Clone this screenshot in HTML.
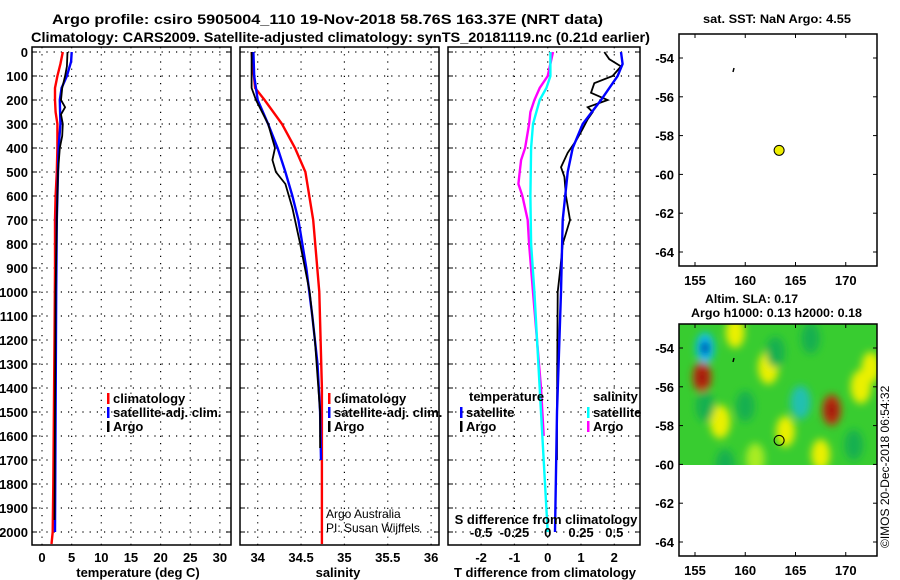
<!DOCTYPE html>
<html><head><meta charset="utf-8"><style>
html,body{margin:0;padding:0;background:#fff;}
svg{display:block;font-family:"Liberation Sans",sans-serif;}
.b{font-weight:bold;}
</style></head><body>
<svg id="c" width="900" height="580" viewBox="0 0 900 580" xmlns="http://www.w3.org/2000/svg">
<defs>
<filter id="blur" x="-50%" y="-50%" width="200%" height="200%"><feGaussianBlur stdDeviation="4"/></filter>
<clipPath id="slaClip"><rect x="679" y="324" width="198" height="141"/></clipPath>
</defs>
<text x="52" y="24" textLength="551" lengthAdjust="spacingAndGlyphs" class="b" font-size="14">Argo profile: csiro 5905004_110 19-Nov-2018 58.76S 163.37E (NRT data)</text>
<text x="31" y="42" textLength="619" lengthAdjust="spacingAndGlyphs" class="b" font-size="14">Climatology: CARS2009. Satellite-adjusted climatology: synTS_20181119.nc (0.21d earlier)</text>
<g id="plots"></g>
<text x="703" y="23" textLength="148" lengthAdjust="spacingAndGlyphs" class="b" font-size="12">sat. SST: NaN Argo: 4.55</text>
<text x="705" y="303" textLength="93" lengthAdjust="spacingAndGlyphs" class="b" font-size="12">Altim. SLA: 0.17</text>
<text x="691" y="317" textLength="171" lengthAdjust="spacingAndGlyphs" class="b" font-size="12">Argo h1000: 0.13 h2000: 0.18</text>
<text transform="translate(889,548) rotate(-90)" font-size="12">©IMOS 20-Dec-2018 06:54:32</text>
</svg>
<script>
// ---- data ----
const depthTicks=[0,100,200,300,400,500,600,700,800,900,1000,1100,1200,1300,1400,1500,1600,1700,1800,1900,2000];
const tempTicks=[0,5,10,15,20,25,30];
const salTicks=[34,34.5,35,35.5,36];
const salTickLabels=["34","34.5","35","35.5","36"];
const tdTicks=[-2,-1,0,1,2];
const sdTicks=[-0.5,-0.25,0,0.25,0.5];
const sdTickLabels=["-0.5","-0.25","0","0.25","0.5"];

const tClimD=[0,50,100,150,200,250,300,400,500,600,700,900,1200,1500,1800,2000,2050];
const tClimV=[3.5,3.1,2.6,2.2,2.2,2.3,2.6,2.6,2.5,2.3,2.2,2.2,2.1,2.0,1.9,1.8,1.6];
const tSatD=[0,40,100,150,200,300,400,500,700,1000,1500,2000];
const tSatV=[5.0,4.9,4.2,3.3,3.0,3.1,2.8,2.7,2.5,2.4,2.3,2.2];
const tArgoD=[0,60,100,150,200,230,260,300,350,400,500,700,1000,1500,1950];
const tArgoV=[4.3,4.2,3.9,3.4,3.2,3.9,3.2,3.5,3.4,3.0,2.7,2.5,2.3,2.2,2.1];

const sClimD=[0,150,200,300,400,500,700,1000,1400,1800,2050];
const sClimV=[33.93,33.97,34.08,34.28,34.43,34.55,34.64,34.71,34.74,34.74,34.74];
const sSatD=[0,100,200,300,400,500,600,700,900,1100,1300,1500,1700];
const sSatV=[33.95,33.96,34.0,34.12,34.23,34.32,34.4,34.47,34.56,34.63,34.69,34.72,34.73];
const sArgoD=[0,150,200,300,400,450,500,550,650,800,1000,1200,1500,1650];
const sArgoV=[33.93,33.93,33.98,34.12,34.2,34.17,34.21,34.32,34.4,34.49,34.6,34.66,34.72,34.72];

const tdSatD=[0,50,100,200,300,400,500,700,1000,1500,2000];
const tdSatV=[2.2,2.25,2.1,1.6,1.05,0.75,0.6,0.45,0.4,0.28,0.22];
const tdArgoD=[0,30,60,100,130,170,200,230,250,280,320,370,420,480,520,600,700,800,900,1000,1500,1700];
const tdArgoV=[1.7,1.85,2.2,1.95,1.4,1.3,1.8,1.2,1.35,1.2,1.05,0.85,0.6,0.4,0.5,0.55,0.67,0.45,0.38,0.3,0.28,0.28];
const sdSatD=[0,100,150,200,300,400,600,800,1000,1500,2000];
const sdSatV=[0.02,0.02,-0.01,-0.06,-0.11,-0.125,-0.13,-0.125,-0.1,-0.05,0.0];
const sdArgoD=[0,100,150,200,250,300,400,450,500,550,600,700,800,1000,1400,1600];
const sdArgoV=[0.04,0.0,-0.06,-0.1,-0.13,-0.14,-0.17,-0.2,-0.21,-0.22,-0.19,-0.15,-0.14,-0.11,-0.05,-0.03];

const lonTicks=[155,160,165,170];
const latTicks=[-54,-56,-58,-60,-62,-64];
const argoLon=163.37, argoLat=-58.76;
const slaBlobLon=[155.7,157.5,162.3,164,159,168.6,171.5,167.5,172.5,161,156,160,165.5,170.8,163,158,166.5,156,156];
const slaBlobLat=[-55.5,-57.8,-55,-58.3,-53.2,-57.2,-56,-59.5,-55,-59.7,-57,-57,-56.8,-59,-54.2,-60,-53.5,-54,-54];
const slaBlobVal=[2,1.2,1.2,1,1,2,1.2,1,1,0.8,-1,-1,-1.5,-1,-0.7,-0.8,-0.7,-2,-3];

// ---- helpers ----
const NS="http://www.w3.org/2000/svg";
const root=document.getElementById('plots');
function mk(tag,attrs,parent){const e=document.createElementNS(NS,tag);for(const k in attrs)e.setAttribute(k,attrs[k]);(parent||root).appendChild(e);return e;}
const Y0=52,PXD=0.24;
const yD=d=>Y0+d*PXD;
const PTOP=47,PBOT=545;
const panels={
 t:{x0:32,x1:231,sx:v=>42+v*5.93},
 s:{x0:240,x1:439,sx:v=>257.7+(v-34)*86.7},
 d:{x0:448,x1:640,sx:v=>547.7+v*33.3}
};
const sdx=v=>547.7+v*133.2;

function frame(p,name){
 const g=mk('g',{});
 
 
 return g;
}
function grid(g,p,xs){
 depthTicks.forEach(d=>{const l=mk('line',{x1:p.x0,x2:p.x1,y1:yD(d),y2:yD(d),stroke:'#000','stroke-width':1.2,'stroke-dasharray':'1.2 6'},g);
  
  mk('line',{x1:p.x0,x2:p.x0+5,y1:yD(d),y2:yD(d),stroke:'#000'},g);mk('line',{x1:p.x1-5,x2:p.x1,y1:yD(d),y2:yD(d),stroke:'#000'},g);});
 xs.forEach(x=>{const l=mk('line',{x1:x,x2:x,y1:PTOP,y2:PBOT,stroke:'#000','stroke-width':1.2,'stroke-dasharray':'1.2 6'},g);
  });
}
function box(g,x0,y0,x1,y1){const r=mk('rect',{x:x0,y:y0,width:x1-x0,height:y1-y0,fill:'none',stroke:'#000','stroke-width':1.5},g);}
function series(g,D,V,sx,color,name,w){
 let pts=D.map((d,i)=>sx(V[i]).toFixed(1)+','+yD(d).toFixed(1)).join(' ');
 const l=mk('polyline',{points:pts,fill:'none',stroke:color,'stroke-width':w||2.4},g);
 
 
}
function text(g,x,y,s,size,anchor,name,bold){const t=mk('text',{x:x,y:y,'font-size':size,'text-anchor':anchor||'start','font-weight':bold===false?'normal':'bold'},g);t.textContent=s;return t;}
function legend(g,x,y,color,label,name){const r=mk('rect',{x:x,y:y-9,width:2.5,height:11,fill:color},g);const t=text(g,x+6,y+1,label,13,'start',name,true);}

// Panel 1 temperature
{const p=panels.t;const g=frame(p,'temperature-panel');
 grid(g,p,tempTicks.map(p.sx));
 series(g,tClimD,tClimV,p.sx,'#f00','temperature-climatology-line');
 series(g,tSatD,tSatV,p.sx,'#00f','temperature-satellite-line');
 series(g,tArgoD,tArgoV,p.sx,'#000','temperature-argo-line',1.8);
 box(g,p.x0,PTOP,p.x1,PBOT);
 depthTicks.forEach(d=>text(g,28,yD(d)+5,String(d),13,'end','depth-tick-label'));
 tempTicks.forEach(v=>text(g,p.sx(v),562,String(v),13,'middle','temperature-tick-label'));
 text(g,138,577,'temperature (deg C)',13,'middle','temperature-axis-title');
 legend(g,107,402,'#f00','climatology','legend-climatology');
 legend(g,107,416,'#00f','satellite-adj. clim.','legend-satellite-adj');
 legend(g,107,430,'#000','Argo','legend-argo');
}
// Panel 2 salinity
{const p=panels.s;const g=frame(p,'salinity-panel');
 grid(g,p,salTicks.map(p.sx));
 series(g,sClimD,sClimV,p.sx,'#f00','salinity-climatology-line');
 series(g,sSatD,sSatV,p.sx,'#00f','salinity-satellite-line');
 series(g,sArgoD,sArgoV,p.sx,'#000','salinity-argo-line',1.8);
 box(g,p.x0,PTOP,p.x1,PBOT);
 salTicks.forEach((v,i)=>text(g,p.sx(v),562,salTickLabels[i],13,'middle','salinity-tick-label'));
 text(g,338,577,'salinity',13,'middle','salinity-axis-title');
 legend(g,328,402,'#f00','climatology','legend-climatology');
 legend(g,328,416,'#00f','satellite-adj. clim.','legend-satellite-adj');
 legend(g,328,430,'#000','Argo','legend-argo');
 text(g,326,518,'Argo Australia',12,'start','argo-australia-credit',false);
 text(g,326,532,'PI: Susan Wijffels',12,'start','pi-credit',false);
}
// Panel 3 differences
{const p=panels.d;const g=frame(p,'difference-panel');
 grid(g,p,tdTicks.map(p.sx));
 series(g,sdArgoD,sdArgoV,sdx,'#f0f','salinity-diff-argo-line');
 series(g,sdSatD,sdSatV,sdx,'#0ff','salinity-diff-satellite-line');
 series(g,tdArgoD,tdArgoV,p.sx,'#000','temperature-diff-argo-line',1.8);
 series(g,tdSatD,tdSatV,p.sx,'#00f','temperature-diff-satellite-line');
 box(g,p.x0,PTOP,p.x1,PBOT);
 tdTicks.forEach(v=>text(g,p.sx(v),562,String(v),13,'middle','tdiff-tick-label'));
 sdTicks.forEach((v,i)=>text(g,sdx(v),537,sdTickLabels[i],13,'middle','sdiff-tick-label'));
 text(g,546,524,'S difference from climatology',13,'middle','sdiff-axis-title');
 text(g,545,577,'T difference from climatology',13,'middle','tdiff-axis-title');
 text(g,469,401,'temperature',13,'start','legend-temperature-heading');
 legend(g,460,416,'#00f','satellite','legend-t-satellite');
 legend(g,460,430,'#000','Argo','legend-t-argo');
 text(g,593,401,'salinity',13,'start','legend-salinity-heading');
 legend(g,587,416,'#0ff','satellite','legend-s-satellite');
 legend(g,587,430,'#f0f','Argo','legend-s-argo');
}
// maps
function mapAxes(g,y0,y1,latY){
 const mx=v=>695+(v-155)*10.05;
 box(g,679,y0,877,y1);
 lonTicks.forEach(v=>{text(g,mx(v),y1+19,String(v),13,'middle','longitude-tick-label');mk('line',{x1:mx(v),x2:mx(v),y1:y0,y2:y0+4,stroke:'#000'},g);mk('line',{x1:mx(v),x2:mx(v),y1:y1,y2:y1-4,stroke:'#000'},g);});
 latTicks.forEach(v=>{const y=latY(v);text(g,674,y+5,String(v),13,'end','latitude-tick-label');mk('line',{x1:679,x2:683,y1:y,y2:y,stroke:'#000'},g);mk('line',{x1:877,x2:873,y1:y,y2:y,stroke:'#000'},g);});
 return mx;
}
{const g=mk('g',{});
 const ly=v=>58+(-54-v)*19.4;
 const mx=mapAxes(g,34,266,ly);
 const c=mk('circle',{cx:mx(argoLon),cy:ly(argoLat),r:5,fill:'#ee0',stroke:'#000'},g);
 mk('line',{x1:734,x2:733,y1:68,y2:72,stroke:'#000','stroke-width':1.5},g);
}
{const g=mk('g',{});
 const ly=v=>348+(-54-v)*19.4;
 const mx=v=>695+(v-155)*10.05;
 const hm=mk('g',{'clip-path':'url(#slaClip)'},g);
 mk('rect',{x:679,y:324,width:198,height:141,fill:'#38cc30'},hm);
 const fg=mk('g',{filter:'url(#blur)'},hm);
 const col=v=>v<=-2.5?'#0018a0':v<=-1.8?'#10c0f0':v<=-1.2?'#20c0b0':v<=-0.5?'#18b050':v<0.9?'#a8ec20':v<1.4?'#eaf000':v<1.8?'#f0b020':'#c03010';
 const sz=v=>{const a=Math.abs(v);return a>=2.5?5:a>=1.8?11:a>=1.2?12:11;};
 slaBlobLon.forEach((lo,i)=>{const v=slaBlobVal[i];const r=sz(v);
  const e=mk('ellipse',{cx:mx(lo),cy:ly(slaBlobLat[i]),rx:r*0.85,ry:r*1.4,fill:col(v)},fg);
  
  if(v>=1.8){const e2=mk('ellipse',{cx:mx(lo),cy:ly(slaBlobLat[i]),rx:r*0.45,ry:r*0.8,fill:'#a01808'},fg);
   }});
 mapAxes(g,324,556,ly);
 const c=mk('circle',{cx:mx(argoLon),cy:ly(argoLat),r:5,fill:'none',stroke:'#000'},g);
 mk('line',{x1:734,x2:733,y1:358,y2:362,stroke:'#000','stroke-width':1.5},g);
}
</script>
</body></html>
